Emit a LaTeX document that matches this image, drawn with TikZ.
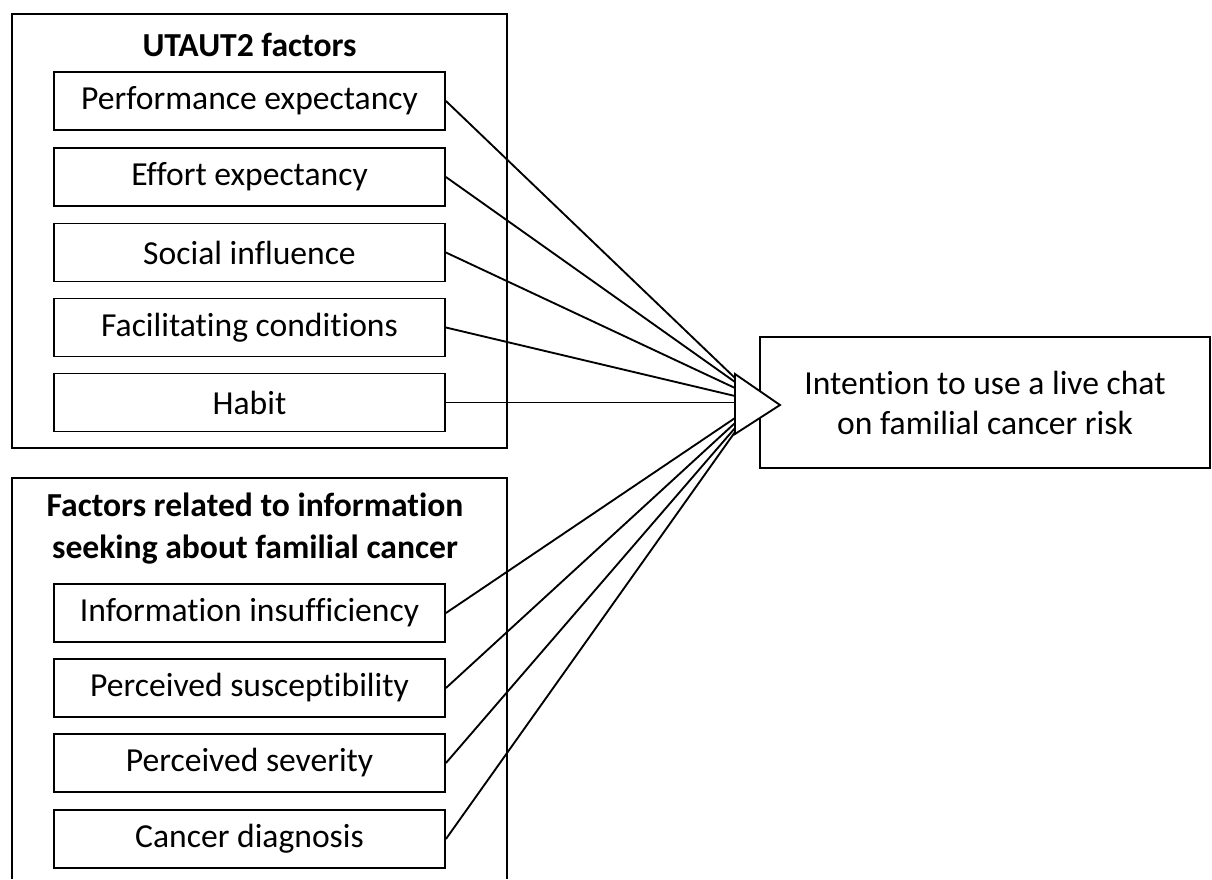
\documentclass[tikz,border=0pt]{standalone}
\usepackage{fontspec}
\setmainfont{Carlito}[Ligatures={NoCommon}]
\begin{document}
\begin{tikzpicture}[x=0.75pt,y=-0.75pt,
  every node/.style={font=\fontsize{25.2}{30}\selectfont},
  factor/.style={draw,line width=1.4pt,minimum width=293.25pt,minimum height=43.5pt,inner sep=0pt,anchor=center},
  header/.style={font=\fontsize{25.2}{31.5}\selectfont\bfseries,align=center,inner sep=0pt},
  frame/.style={draw,line width=1.4pt},
  link/.style={line width=1.4pt}]
\useasboundingbox (0,0) rectangle (1212,879);
% outer frames
\draw[frame] (12,14) rectangle (507,448);
\draw[frame] (12,879) -- (12,478) -- (507,478) -- (507,879);
% headers
\node[header] (h1) at (249.5,45) {UTAUT2 factors};
\node[header] (h2) at (255,529) {Factors related to information\\seeking about familial cancer};
% factor boxes
\node[factor] (pe) at (249.5,101) {Performance expectancy};
\node[factor] (ee) at (249.5,177) {Effort expectancy};
\node[factor] (si) at (249.5,252.5) {Social influence};
\node[factor] (fc) at (249.5,327.5) {Facilitating conditions};
\node[factor] (hb) at (249.5,402.5) {Habit};
\node[factor] (ii) at (249.5,613) {Information insufficiency};
\node[factor] (ps) at (249.5,688) {Perceived susceptibility};
\node[factor] (pv) at (249.5,763) {Perceived severity};
\node[factor] (cd) at (249.5,839) {Cancer diagnosis};
% outcome
\node[draw,line width=1.4pt,minimum width=337.5pt,minimum height=98.25pt,align=center,inner sep=0pt,font=\fontsize{25.2}{30}\selectfont] (out) at (985,402.5) {Intention to use a live chat\\on familial cancer risk};
% convergence points on the triangle
\coordinate (c1) at (735,378);
\coordinate (c2) at (735,382);
\coordinate (c3) at (735,388);
\coordinate (c4) at (735,396);
\coordinate (c5) at (735,402.5);
\coordinate (c6) at (735,418);
\coordinate (c7) at (735,423);
\coordinate (c8) at (735,428);
\coordinate (c9) at (735,432);
\draw[link] (pe.east) -- (c1);
\draw[link] (ee.east) -- (c2);
\draw[link] (si.east) -- (c3);
\draw[link] (fc.east) -- (c4);
\draw[link] (hb.east) -- (c5);
\draw[link] (ii.east) -- (c6);
\draw[link] (ps.east) -- (c7);
\draw[link] (pv.east) -- (c8);
\draw[link] (cd.east) -- (c9);
% arrowhead triangle
\coordinate (t1) at (735,374);
\coordinate (t2) at (735,434);
\coordinate (tip) at (780,405);
\draw[line width=1.4pt,fill=white,line join=miter] (t1) -- (tip) -- (t2) -- cycle;
\end{tikzpicture}
\end{document}
